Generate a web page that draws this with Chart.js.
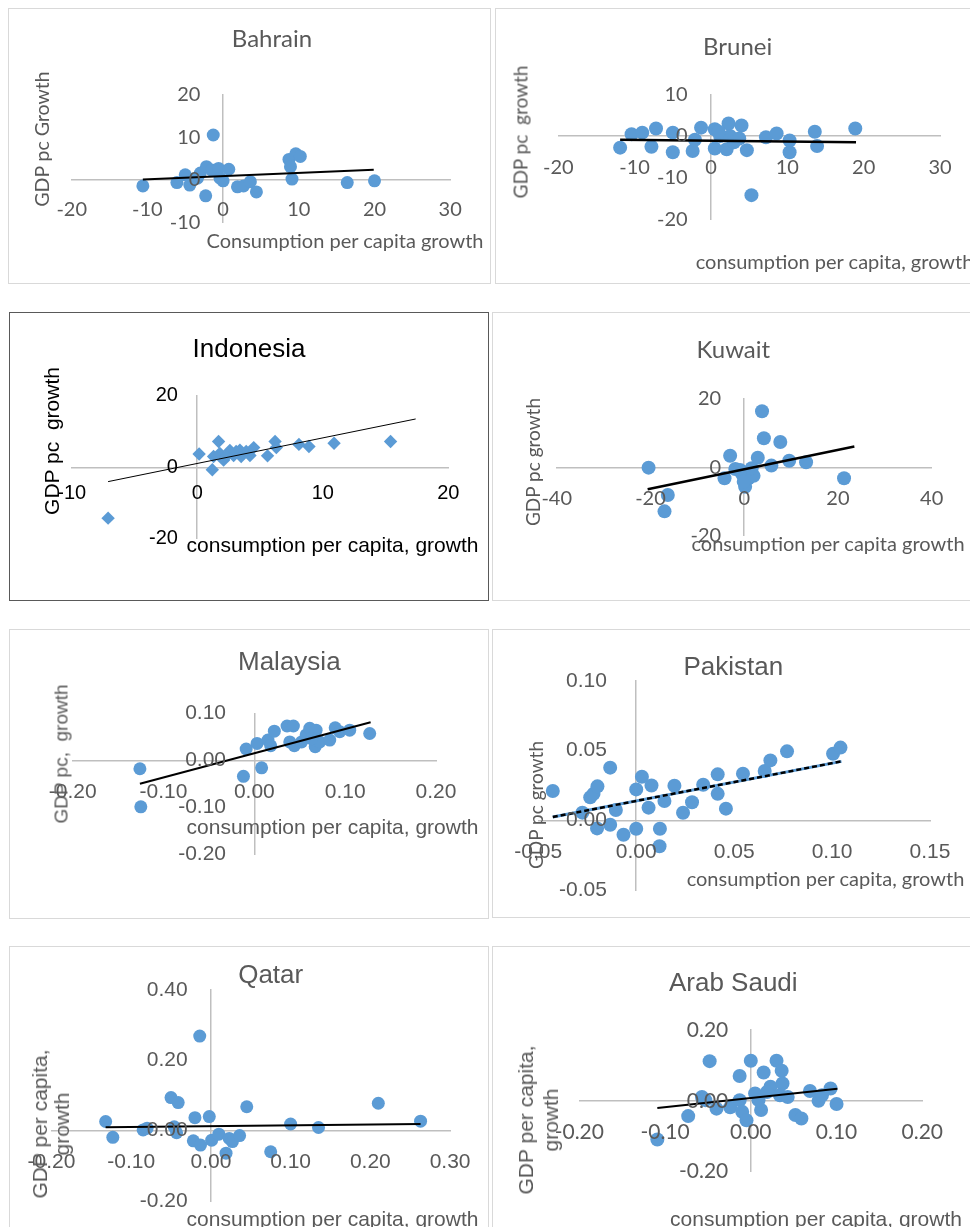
<!DOCTYPE html>
<html>
<head>
<meta charset="utf-8">
<script src="https://cdn.jsdelivr.net/npm/chart.js@4.4.1/dist/chart.umd.min.js"></script>
<style>
  html, body { margin: 0; padding: 0; background: #fff; }
  body { width: 970px; height: 1227px; position: relative; overflow: hidden; }
  .frame { position: absolute; box-sizing: border-box; border: 1px solid #d9d9d9; }
  canvas.plot { position: absolute; }
  .t { position: absolute; white-space: pre; line-height: 1; transform: translate(-50%, -50%); color: #595959; }
  .l { transform: translate(0, -50%); }
  .r { transform: translate(-50%, -50%) rotate(-90deg); text-align: center; }
  .cal { font-family: Lato, "Noto Sans", sans-serif; }
  .ar { font-family: "Liberation Sans", Arial, sans-serif; }
</style>
</head>
<body>

<div class="frame" style="left:8px;top:8px;width:483px;height:276px"></div>
<div class="frame" style="left:495px;top:8px;width:480px;height:276px"></div>
<div class="frame" style="left:9px;top:312px;width:480px;height:289px;border-color:#595959"></div>
<div class="frame" style="left:492px;top:312px;width:483px;height:289px"></div>
<div class="frame" style="left:9px;top:629px;width:480px;height:290px"></div>
<div class="frame" style="left:492px;top:629px;width:483px;height:289px"></div>
<div class="frame" style="left:9px;top:946px;width:480px;height:300px"></div>
<div class="frame" style="left:492px;top:946px;width:483px;height:300px"></div>

<canvas class="plot" id="bahrain"></canvas>
<canvas class="plot" id="brunei"></canvas>
<canvas class="plot" id="indonesia"></canvas>
<canvas class="plot" id="kuwait"></canvas>
<canvas class="plot" id="malaysia"></canvas>
<canvas class="plot" id="pakistan"></canvas>
<canvas class="plot" id="qatar"></canvas>
<canvas class="plot" id="saudi"></canvas>

<!-- Bahrain -->
<div class="t cal" style="left:272px;top:38px;font-size:24px">Bahrain</div>
<div class="t cal r" style="left:41.5px;top:139px;font-size:19.5px">GDP pc Growth</div>
<div class="t cal" style="left:345px;top:240px;font-size:20px">Consumption per capita growth</div>
<!-- Brunei -->
<div class="t cal" style="left:737.7px;top:46px;font-size:24px">Brunei</div>
<div class="t cal r" style="left:520px;top:131.7px;font-size:19px">GDP pc  growth</div>
<div class="t cal l" style="left:695.7px;top:260.7px;font-size:20px">consumption per capita, growth</div>
<!-- Indonesia -->
<div class="t ar" style="left:249px;top:348.3px;font-size:26px;color:#000">Indonesia</div>
<div class="t ar r" style="left:51.3px;top:440.8px;font-size:21px;color:#000">GDP pc  growth</div>
<div class="t ar" style="left:332.5px;top:544.3px;font-size:21px;color:#000">consumption per capita, growth</div>
<!-- Kuwait -->
<div class="t cal" style="left:733.3px;top:349.3px;font-size:24px">Kuwait</div>
<div class="t cal r" style="left:531.7px;top:461.7px;font-size:19px">GDP pc growth</div>
<div class="t cal" style="left:828px;top:543.3px;font-size:20px">consumption per capita growth</div>
<!-- Malaysia -->
<div class="t ar" style="left:289.3px;top:661px;font-size:26px">Malaysia</div>
<div class="t ar r" style="left:61.2px;top:754px;font-size:19px">GDP pc,  growth</div>
<div class="t ar" style="left:332.5px;top:826px;font-size:21px">consumption per capita, growth</div>
<!-- Pakistan -->
<div class="t ar" style="left:733.3px;top:665.7px;font-size:26px">Pakistan</div>
<div class="t cal r" style="left:535.3px;top:805px;font-size:19px">GDP pc growth</div>
<div class="t cal" style="left:825.5px;top:878.3px;font-size:20px">consumption per capita, growth</div>
<!-- Qatar -->
<div class="t ar" style="left:270.7px;top:974.3px;font-size:26px">Qatar</div>
<div class="t ar r" style="left:50.8px;top:1123.5px;font-size:21px;line-height:22px">GDP per capita,
growth</div>
<div class="t ar" style="left:332.5px;top:1218.3px;font-size:21px">consumption per capita, growth</div>
<!-- Arab Saudi -->
<div class="t ar" style="left:733.3px;top:981.7px;font-size:26px">Arab Saudi</div>
<div class="t ar r" style="left:537.5px;top:1120px;font-size:21px;line-height:25px">GDP per capita,
growth</div>
<div class="t ar" style="left:816px;top:1218px;font-size:21px">consumption per capita, growth</div>

<script>
// ---- data: consumption per capita growth (x) vs GDP per capita growth (y) ----
const bahrainCons = [-10.6, -6.1, -5.0, -4.4, -3.4, -3.9, -3.0, -2.3, -2.2, -1.3, -1.5, -0.6, -0.4, 0.0, 0.75, 1.9, 2.7, 3.6, 4.4, 8.7, 8.9, 9.6, 10.2, 9.1, 16.4, 20.0];
const bahrainGdp  = [-1.4, -0.6, 1.2, -1.2, 0.4, 0.2, 1.6, -3.7, 3.1, 10.5, 2.3, 2.7, 0.4, -0.2, 2.5, -1.6, -1.4, -0.4, -2.8, 4.8, 3.1, 6.1, 5.5, 0.2, -0.6, -0.2];
const bahrainTrendX = [-10.6, 19.9];
const bahrainTrendY = [0.1, 2.4];

const bruneiCons = [-11.9, -10.4, -9.0, -7.8, -7.2, -5.0, -5.0, -2.4, -2.1, -1.3, 0.5, 0.5, 1.2, 2.05, 2.3, 2.5, 4.0, 3.7, 4.7, 5.3, 7.2, 8.6, 10.3, 10.3, 13.6, 13.9, 18.9, 1.0, 3.0];
const bruneiGdp  = [-2.8, 0.4, 0.8, -2.6, 1.8, 0.8, -3.9, -3.6, -0.9, 2.0, 1.6, -3.0, 0.0, -3.2, 3.0, 0.0, 2.5, -0.6, -3.4, -14.2, -0.3, 0.6, -1.1, -3.9, 1.0, -2.4, 1.8, 1.0, -1.5];
const bruneiTrendX = [-11.9, 19.0];
const bruneiTrendY = [-0.9, -1.5];

const indonesiaCons = [-7.1, 0.15, 1.2, 1.7, 1.3, 1.8, 2.1, 2.6, 2.9, 3.4, 3.5, 3.9, 4.2, 4.5, 5.6, 6.2, 6.3, 8.1, 8.9, 10.9, 15.4, 3.1, 2.3];
const indonesiaGdp  = [-14.2, 3.7, -0.7, 7.2, 3.0, 3.9, 2.0, 4.7, 3.3, 4.8, 3.0, 4.4, 3.3, 5.5, 3.2, 7.2, 5.5, 6.4, 5.8, 6.7, 7.2, 4.4, 3.0];
const indonesiaTrendX = [-7.1, 17.4];
const indonesiaTrendY = [-4.0, 13.5];

const kuwaitCons = [-20.4, -16.3, -17.0, -4.2, -3.0, -1.9, -0.5, 0.2, 0.9, 2.0, 1.6, 2.9, 3.8, 4.2, 5.8, 7.7, 9.6, 13.2, 21.3, -0.9, -0.1];
const kuwaitGdp  = [-0.1, -8.1, -12.9, -3.2, 3.4, -0.5, -1.8, -5.7, -3.2, -2.5, -0.3, 2.8, 16.4, 8.5, 0.5, 7.4, 1.9, 1.5, -3.2, -0.8, -4.2];
const kuwaitTrendX = [-20.6, 23.5];
const kuwaitTrendY = [-6.4, 6.1];

const malaysiaCons = [-0.126, -0.125, -0.012, 0.008, -0.009, 0.003, 0.015, 0.018, 0.022, 0.036, 0.043, 0.044, 0.052, 0.057, 0.061, 0.068, 0.067, 0.072, 0.083, 0.089, 0.094, 0.105, 0.127, 0.063, 0.039];
const malaysiaGdp  = [-0.018, -0.099, -0.034, -0.016, 0.024, 0.036, 0.043, 0.031, 0.062, 0.073, 0.073, 0.031, 0.039, 0.054, 0.068, 0.064, 0.029, 0.039, 0.043, 0.069, 0.061, 0.064, 0.057, 0.046, 0.039];
const malaysiaTrendX = [-0.126, 0.128];
const malaysiaTrendY = [-0.050, 0.081];

const pakistanCons = [-0.0426, -0.0275, -0.0235, -0.0218, -0.0198, -0.0200, -0.0133, -0.0133, -0.0104, -0.0065, 0.0, 0.0, 0.0029, 0.0078, 0.0063, 0.0121, 0.0119, 0.0144, 0.0195, 0.0239, 0.0285, 0.0342, 0.0416, 0.0416, 0.0458, 0.0545, 0.0656, 0.0685, 0.077, 0.1005, 0.1043];
const pakistanGdp  = [0.021, 0.0055, 0.0165, 0.019, 0.0244, -0.0058, 0.0378, -0.0032, 0.0074, -0.0103, 0.0222, -0.006, 0.0313, 0.025, 0.0091, -0.006, -0.0186, 0.0139, 0.0248, 0.0054, 0.013, 0.0255, 0.033, 0.019, 0.0084, 0.0335, 0.0354, 0.043, 0.0495, 0.0478, 0.0522];
const pakistanTrendX = [-0.0426, 0.1048];
const pakistanTrendY = [0.0024, 0.0423];

const qatarCons = [-0.132, -0.123, -0.085, -0.080, -0.050, -0.041, -0.046, -0.043, -0.020, -0.022, -0.014, -0.013, -0.002, 0.001, 0.010, 0.019, 0.023, 0.027, 0.036, 0.045, 0.075, 0.100, 0.135, 0.210, 0.263];
const qatarGdp  = [0.026, -0.019, 0.002, 0.007, 0.094, 0.080, 0.011, -0.006, 0.037, -0.029, 0.269, -0.041, 0.040, -0.027, -0.010, -0.064, -0.022, -0.031, -0.014, 0.068, -0.060, 0.019, 0.009, 0.078, 0.027];
const qatarTrendX = [-0.132, 0.263];
const qatarTrendY = [0.0095, 0.019];

const saudiCons = [-0.109, -0.073, -0.057, -0.048, -0.053, -0.040, -0.024, -0.013, -0.013, -0.010, -0.005, 0.000, 0.005, 0.012, 0.015, 0.023, 0.030, 0.036, 0.037, 0.034, 0.043, 0.052, 0.059, 0.069, 0.079, 0.083, 0.093, 0.100, 0.009, 0.019];
const saudiGdp  = [-0.109, -0.043, 0.011, 0.112, 0.002, -0.022, -0.018, 0.070, 0.002, -0.031, -0.055, 0.113, 0.021, -0.026, 0.080, 0.040, 0.113, 0.085, 0.049, 0.016, 0.011, -0.040, -0.050, 0.028, 0.000, 0.016, 0.035, -0.009, 0.002, 0.025];
const saudiTrendX = [-0.109, 0.101];
const saudiTrendY = [-0.020, 0.034];

// ---- axis ranges and tick steps ----
const bahrainAxes   = { x: [-20, 30, 10], y: [-10, 20, 10] };
const bruneiAxes    = { x: [-20, 30, 10], y: [-20, 10, 10] };
const indonesiaAxes = { x: [-10, 20, 10], y: [-20, 20, 20] };
const kuwaitAxes    = { x: [-40, 40, 20], y: [-20, 20, 20] };
const malaysiaAxes  = { x: [-0.2, 0.2, 0.1], y: [-0.2, 0.1, 0.1] };
const pakistanAxes  = { x: [-0.05, 0.15, 0.05], y: [-0.05, 0.1, 0.05] };
const qatarAxes     = { x: [-0.2, 0.3, 0.1], y: [-0.2, 0.4, 0.2] };
const saudiAxes     = { x: [-0.2, 0.2, 0.1], y: [-0.2, 0.2, 0.2] };

// Shift y tick labels left of a zero-crossing axis line.
const yLabelGap = {
  id: 'yLabelGap',
  defaults: { gap: 0 },
  beforeDraw(chart, args, opts) {
    const items = chart.scales.y.getLabelItems();
    if (items.shifted) return;
    for (const it of items) it.options.translation[0] -= opts.gap;
    items.shifted = true;
  }
};
Chart.register(yLabelGap);

const BLUE = '#5B9BD5';
const CAL = 'Lato';
const ARIAL = 'Liberation Sans';

const zip = (xs, ys) => xs.map((v, i) => ({ x: v, y: ys[i] }));

function drawPanel(p) {
  const canvas = document.getElementById(p.id);
  const [bx, by, bw, bh] = p.box;
  canvas.width = bw; canvas.height = bh;
  canvas.style.left = bx + 'px'; canvas.style.top = by + 'px';
  canvas.style.width = bw + 'px'; canvas.style.height = bh + 'px';
  const [al, at, ar, ab] = p.area;
  const dec = p.dec;
  const fmt = v => { const r = Math.round(v * 1000) / 1000; return (r === 0 ? 0 : r).toFixed(dec); };
  const tickFont = { family: p.font, size: p.tickSize };
  const axisLine = { display: true, color: '#bfbfbf', width: 1.5, z: 0 };

  const datasets = [];
  if (p.dashed) {
    datasets.push({ data: zip(p.tx, p.ty), showLine: true, pointRadius: 0, borderColor: '#000',
      borderWidth: 2.5, borderDash: [5, 3], fill: false, clip: false, order: 0 });
    datasets.push({ data: zip(p.tx, p.ty), showLine: true, pointRadius: 0, borderColor: BLUE,
      borderWidth: 3, fill: false, clip: false, order: 1 });
  } else {
    datasets.push({ data: zip(p.tx, p.ty), showLine: true, pointRadius: 0, borderColor: '#000',
      borderWidth: p.lw, fill: false, clip: false, order: 0 });
  }
  datasets.push({ data: zip(p.cons, p.gdp), pointStyle: p.marker, pointRadius: p.r,
    pointBackgroundColor: BLUE, pointBorderColor: BLUE, pointBorderWidth: 0,
    showLine: false, clip: false, order: 5 });

  new Chart(canvas, {
    type: 'scatter',
    data: { datasets },
    options: {
      responsive: false,
      animation: false,
      devicePixelRatio: 1,
      events: [],
      layout: { padding: { left: al - bx, top: at - by, right: bx + bw - ar, bottom: by + bh - ab } },
      plugins: { legend: { display: false }, tooltip: { enabled: false }, yLabelGap: { gap: p.yGap } },
      scales: {
        x: {
          type: 'linear', min: p.axes.x[0], max: p.axes.x[1], position: { y: 0 },
          grid: { display: false, drawTicks: false }, border: axisLine,
          ticks: { z: 1, stepSize: p.axes.x[2], autoSkip: false, maxRotation: 0, padding: p.xPad,
                   font: tickFont, color: p.tickColor, callback: fmt }
        },
        y: {
          type: 'linear', min: p.axes.y[0], max: p.axes.y[1], position: { x: 0 },
          grid: { display: false, drawTicks: false }, border: axisLine,
          ticks: { z: 1, stepSize: p.axes.y[2], autoSkip: false, font: tickFont, color: p.tickColor, callback: fmt }
        }
      }
    }
  });
}

const panels = [
  { id: 'bahrain', box: [8, 8, 483, 276], area: [71.7, 94.3, 450.2, 222.8], axes: bahrainAxes, dec: 0,
    font: CAL, tickSize: 20, tickColor: '#595959', yGap: 22.7, xPad: 17.2,
    cons: bahrainCons, gdp: bahrainGdp, tx: bahrainTrendX, ty: bahrainTrendY, marker: 'circle', r: 6.5, lw: 2 },
  { id: 'brunei', box: [495, 8, 480, 276], area: [558.3, 94.3, 940, 219.3], axes: bruneiAxes, dec: 0,
    font: CAL, tickSize: 20, tickColor: '#595959', yGap: 23.3, xPad: 19.8,
    cons: bruneiCons, gdp: bruneiGdp, tx: bruneiTrendX, ty: bruneiTrendY, marker: 'circle', r: 7, lw: 2.5 },
  { id: 'indonesia', box: [9, 312, 480, 289], area: [71.7, 395.7, 448.3, 538.9], axes: indonesiaAxes, dec: 0,
    font: ARIAL, tickSize: 20, tickColor: '#000', yGap: 19.3, xPad: 14,
    cons: indonesiaCons, gdp: indonesiaGdp, tx: indonesiaTrendX, ty: indonesiaTrendY, marker: 'rectRot', r: 6.7, lw: 1 },
  { id: 'kuwait', box: [492, 312, 483, 289], area: [556.7, 399, 931.7, 535.6], axes: kuwaitAxes, dec: 0,
    font: CAL, tickSize: 20, tickColor: '#595959', yGap: 23, xPad: 19.5,
    cons: kuwaitCons, gdp: kuwaitGdp, tx: kuwaitTrendX, ty: kuwaitTrendY, marker: 'circle', r: 7, lw: 2.5 },
  { id: 'malaysia', box: [9, 629, 480, 290], area: [72.7, 713.3, 436, 854.3], axes: malaysiaAxes, dec: 2,
    font: ARIAL, tickSize: 21, tickColor: '#595959', yGap: 28.3, xPad: 19.1,
    cons: malaysiaCons, gdp: malaysiaGdp, tx: malaysiaTrendX, ty: malaysiaTrendY, marker: 'circle', r: 6.5, lw: 2 },
  { id: 'pakistan', box: [492, 629, 483, 289], area: [538.3, 681, 930, 890], axes: pakistanAxes, dec: 2,
    font: ARIAL, tickSize: 21, tickColor: '#595959', yGap: 29.3, xPad: 19.6,
    cons: pakistanCons, gdp: pakistanGdp, tx: pakistanTrendX, ty: pakistanTrendY, marker: 'circle', r: 7, lw: 2.5, dashed: true },
  { id: 'qatar', box: [9, 946, 480, 300], area: [50.3, 990, 452, 1201], axes: qatarAxes, dec: 2,
    font: ARIAL, tickSize: 21, tickColor: '#595959', yGap: 23.3, xPad: 18.5,
    cons: qatarCons, gdp: qatarGdp, tx: qatarTrendX, ty: qatarTrendY, marker: 'circle', r: 6.5, lw: 2 },
  { id: 'saudi', box: [492, 946, 483, 300], area: [579.3, 1030, 922.3, 1171.7], axes: saudiAxes, dec: 2,
    font: CAL, tickSize: 21, tickColor: '#595959', yGap: 22.5, xPad: 18.4,
    cons: saudiCons, gdp: saudiGdp, tx: saudiTrendX, ty: saudiTrendY, marker: 'circle', r: 7, lw: 2 }
];

panels.forEach(drawPanel);
</script>
</body>
</html>
